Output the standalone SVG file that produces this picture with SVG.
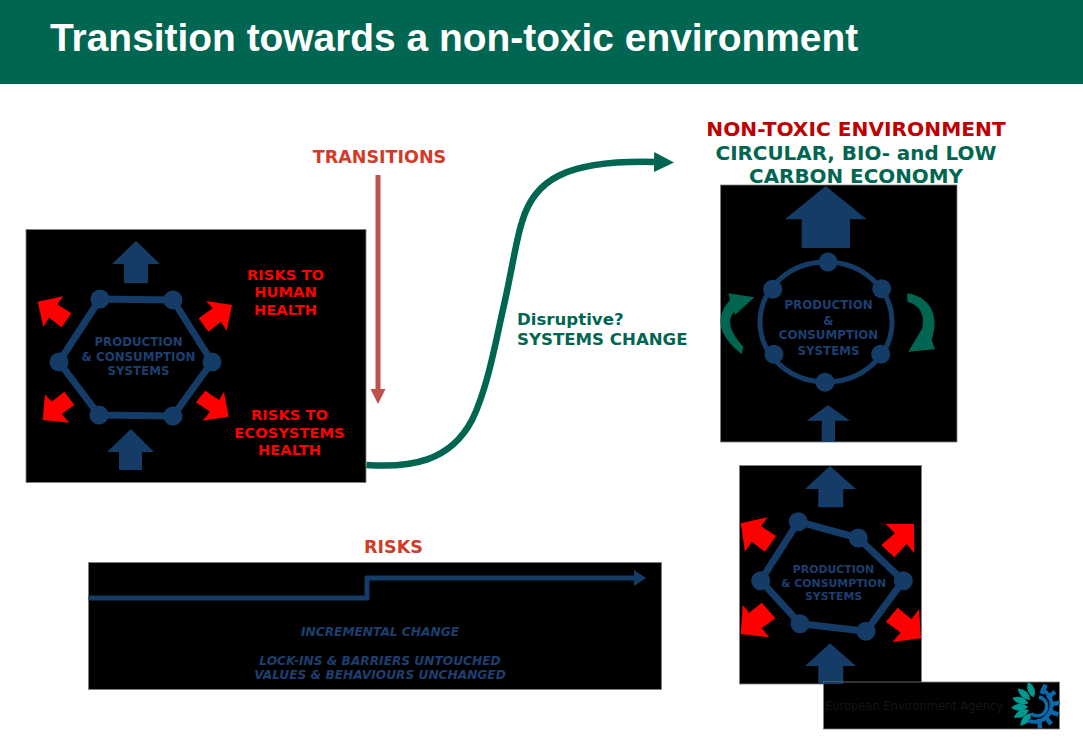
<svg xmlns="http://www.w3.org/2000/svg" width="1083" height="750" viewBox="0 0 1083 750">
  <style>
    text { font-family: "DejaVu Sans", Verdana, sans-serif; font-weight: bold; text-anchor: middle; }
    .panel { fill: #000; stroke: #808080; stroke-width: 0.8; }
    .navy { fill: #143c66; }
    .red { fill: #ff0000; }
    .green { fill: #006651; }
    .ring { fill: none; stroke: #143c66; stroke-width: 7; stroke-linejoin: round; }
    .sys { fill: #1c3f70; font-size: 11.8px; }
    .sys-small { fill: #1c3f70; font-size: 10.9px; }
    .risk { fill: #ff0000; font-size: 14.7px; }
    .call { fill: #d23b28; font-size: 17.5px; }
    .goal { fill: #006651; font-size: 19.9px; }
    .note { fill: #1c3f70; font-size: 12.2px; font-style: italic; }
    .side { fill: #006651; font-size: 16.6px; text-anchor: start; }
    .petal { fill: #00998f; }
    .tooth { stroke: #0a68ab; stroke-width: 4.5; }
  </style>
  <defs>
    <circle id="dot" r="9.500" fill="#143c66"/>
    <path id="petal" class="petal" d="M0-9Q7-17 0-26Q-7-17 0-9Z"/>
    <line id="tooth" class="tooth" x1="0" y1="-13" x2="0" y2="-23"/>
    <marker id="headRed" markerUnits="userSpaceOnUse" markerWidth="16" markerHeight="16" refX="0" refY="8" orient="auto">
      <path d="M0 0.5L15 8L0 15.5Z" fill="#c0504d"/>
    </marker>
    <marker id="headGreen" markerUnits="userSpaceOnUse" markerWidth="21" markerHeight="22" refX="0" refY="11" orient="auto">
      <path d="M0 1L20 11L0 21Z" fill="#006651"/>
    </marker>
    <marker id="headNavy" markerUnits="userSpaceOnUse" markerWidth="12" markerHeight="18" refX="0" refY="9" orient="auto">
      <path d="M0 1L12 9L0 17Z" fill="#143c66"/>
    </marker>
  </defs>

  <rect width="1083" height="84" fill="#006651"/>
  <text x="50" y="51" style="font-family:'Liberation Sans',Arial,sans-serif;text-anchor:start;font-size:38.9px" fill="#fff">Transition towards a non-toxic environment</text>

  <g id="current-system">
    <rect class="panel" x="26" y="229.500" width="340" height="253"/>
    <polygon class="navy" points="136,241 160,264 148,264 148,283 124,283 124,264 112,264"/>
    <polygon class="navy" points="131,429 154,452 142,452 142,470 119,470 119,452 107,452"/>
    <polygon class="red" points="37.700,301.700 63.300,296.300 57.300,304.300 71.300,313.300 61.700,327.300 49,317.700 43.300,327"/>
    <polygon class="red" points="232,305 206,301 212.700,308.300 198.700,318.300 208.300,331.700 221,321.700 226.700,331"/>
    <polygon class="red" points="42.700,420 69.300,422.700 61.700,414 74.300,405 64.300,391.700 51.700,401.700 45,394.300"/>
    <polygon class="red" points="228.700,416.700 202.700,420.700 210,411.700 196,402.300 205.300,390.700 219,400 224,391.700"/>
    <polygon class="ring" points="100,299 173,300 212,362 173,416 99,415 59,362"/>
    <use href="#dot" x="100" y="299"/><use href="#dot" x="173" y="300"/><use href="#dot" x="212" y="362"/>
    <use href="#dot" x="173" y="416"/><use href="#dot" x="99" y="415"/><use href="#dot" x="59" y="362"/>
    <text class="sys" x="138.500" y="346">PRODUCTION</text>
    <text class="sys" x="138.500" y="361">&amp; CONSUMPTION</text>
    <text class="sys" x="138.500" y="375">SYSTEMS</text>
    <text class="risk" x="285.500" y="280">RISKS TO</text>
    <text class="risk" x="285.500" y="297">HUMAN</text>
    <text class="risk" x="285.500" y="315">HEALTH</text>
    <text class="risk" x="289.500" y="420">RISKS TO</text>
    <text class="risk" x="289.500" y="438">ECOSYSTEMS</text>
    <text class="risk" x="289.500" y="455">HEALTH</text>
  </g>

  <g id="circular-system">
    <rect class="panel" x="720.500" y="185" width="236.500" height="257"/>
    <polygon class="navy" points="825.700,186 866.700,219.300 850,219.300 850,248 801.700,248 801.700,219.300 785,219.300"/>
    <polygon class="navy" points="828,405 850,420.700 835,420.700 835,442 821.700,442 821.700,420.700 806.700,420.700"/>
    <ellipse cx="826" cy="322" rx="66" ry="60" fill="none" stroke="#143c66" stroke-width="5"/>
    <use href="#dot" x="828" y="262"/><use href="#dot" x="881.700" y="288.700"/><use href="#dot" x="880.700" y="354.300"/>
    <use href="#dot" x="825" y="382.300"/><use href="#dot" x="774" y="354.300"/><use href="#dot" x="772.700" y="289.300"/>
    <text class="sys" x="828.500" y="309">PRODUCTION</text>
    <text class="sys" x="828.500" y="325">&amp;</text>
    <text class="sys" x="828.500" y="339">CONSUMPTION</text>
    <text class="sys" x="828.500" y="355">SYSTEMS</text>
    <path class="green" d="M754.300 297.300L728.300 293.300L730 300Q706 326 741.700 354.300L743.300 346.700Q722.600 324 734.300 311.700L735 315Z"/>
    <path class="green" d="M907.300 293.300C930 297 940 315 931.700 340L935 349.300L908.300 351.700L922.300 328.300C925 315 920 305 907.300 301.700Z"/>
  </g>

  <g id="incremental-panel">
    <rect class="panel" x="88.500" y="562.500" width="573" height="127"/>
    <text class="note" x="380" y="636">INCREMENTAL CHANGE</text>
    <text class="note" x="380" y="665">LOCK-INS &amp; BARRIERS UNTOUCHED</text>
    <text class="note" x="380" y="679">VALUES &amp; BEHAVIOURS UNCHANGED</text>
  </g>

  <g id="stressed-system">
    <rect class="panel" x="739.500" y="465.500" width="182" height="218.500"/>
    <polygon class="navy" points="830,466 856,489 843.300,489 843.300,507.300 818.300,507.300 818.300,489 805,489"/>
    <polygon class="navy" points="830,643.300 856,666 843.300,666 843.300,684 818.300,684 818.300,666 805,666"/>
    <polygon class="red" points="740.700,523.300 767.700,517.300 761,526 776,536 765,551.700 751.700,541.700 745,551.700"/>
    <polygon class="red" points="914,524 885.700,524 895,533.300 881.300,545 894.300,557.300 906.700,544 914.300,553.300"/>
    <polygon class="red" points="740.700,634 769.300,637.300 761.700,628.300 775.300,618.300 761.700,602.700 749.300,612.700 742.700,605"/>
    <polygon class="red" points="921,638.300 892.300,642 900.700,632.700 886,621.700 897.700,607.700 911.700,619.300 919,609"/>
    <polygon class="ring" points="798.300,521.700 858.300,538 903.300,580.700 866,631.300 800,623.700 760.700,580.700"/>
    <use href="#dot" x="798.300" y="521.700"/><use href="#dot" x="858.300" y="538"/><use href="#dot" x="903.300" y="580.700"/>
    <use href="#dot" x="866" y="631.300"/><use href="#dot" x="800" y="623.700"/><use href="#dot" x="760.700" y="580.700"/>
    <text class="sys-small" x="833.500" y="573">PRODUCTION</text>
    <text class="sys-small" x="833.500" y="587">&amp; CONSUMPTION</text>
    <text class="sys-small" x="833.500" y="600">SYSTEMS</text>
  </g>

  <g id="agency-logo">
    <rect class="panel" x="823.500" y="682" width="236" height="47"/>
    <polygon class="navy" points="823.500,682 843.300,682 843.300,684 823.500,684"/>
    <text x="914" y="710" font-size="11.500" style="font-weight:normal" fill="#161616">European Environment Agency</text>
    <g transform="translate(1037 706)">
      <use href="#petal" transform="rotate(-20)"/><use href="#petal" transform="rotate(-48)"/>
      <use href="#petal" transform="rotate(-72)"/><use href="#petal" transform="rotate(-94)"/>
      <use href="#petal" transform="rotate(-116)"/><use href="#petal" transform="rotate(-140)"/>
      <path d="M2-9A9.500 9.500 0 1 1-6 7.500" fill="none" stroke="#0a68ab" stroke-width="3.500"/>
      <use href="#tooth" transform="rotate(22)"/><use href="#tooth" transform="rotate(52)"/>
      <use href="#tooth" transform="rotate(82)"/><use href="#tooth" transform="rotate(112)"/>
      <use href="#tooth" transform="rotate(142)"/><use href="#tooth" transform="rotate(172)"/>
      <path d="M4-17A17 17 0 1 1-9 14.500" fill="none" stroke="#0a68ab" stroke-width="4"/>
    </g>
  </g>

  <g id="connectors">
    <path d="M378 175V389" fill="none" stroke="#c0504d" stroke-width="5" marker-end="url(#headRed)"/>
    <path d="M366.500 465C410 468 450 462 472 420C488 388 497 335 504 305C512 270 516 240 522 222C534 180 565 160 654 162" fill="none" stroke="#006651" stroke-width="6.500" marker-end="url(#headGreen)"/>
    <path d="M88.500 598H367V578H634" fill="none" stroke="#143c66" stroke-width="5" stroke-linejoin="round" marker-end="url(#headNavy)"/>
  </g>

  <g id="captions">
    <text class="call" x="379.500" y="163">TRANSITIONS</text>
    <text class="call" x="393.500" y="553">RISKS</text>
    <text x="856" y="136" font-size="20.200" fill="#c00000">NON-TOXIC ENVIRONMENT</text>
    <text class="goal" x="856" y="160">CIRCULAR, BIO- and LOW</text>
    <text class="goal" x="856" y="183">CARBON ECONOMY</text>
    <text class="side" x="517" y="325">Disruptive?</text>
    <text class="side" x="517" y="345">SYSTEMS CHANGE</text>
  </g>
</svg>
